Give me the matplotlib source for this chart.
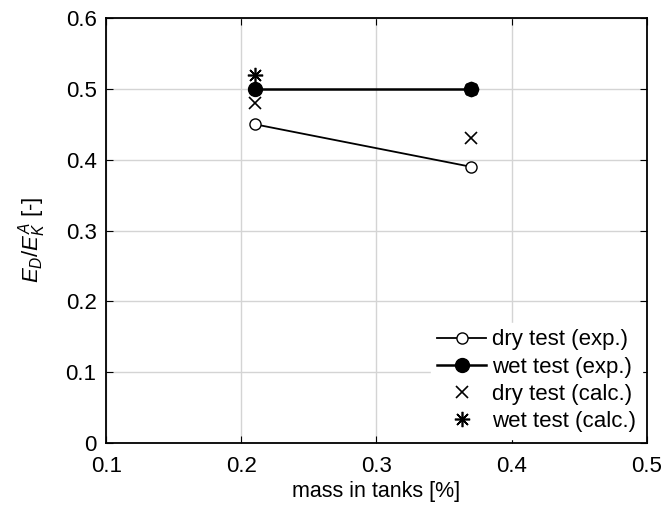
import matplotlib
matplotlib.use('Agg')
import matplotlib.pyplot as plt

plt.rcParams['font.family'] = ['Liberation Sans', 'DejaVu Sans']
plt.rcParams['mathtext.fontset'] = 'custom'
plt.rcParams['mathtext.it'] = 'Liberation Sans:italic'
plt.rcParams['mathtext.rm'] = 'Liberation Sans'

# data
mass = [0.21, 0.37]
dry_exp = [0.45, 0.39]
wet_exp = [0.50, 0.50]
dry_calc = [0.48, 0.43]
wet_calc = [0.52, 0.50]

fig = plt.figure(figsize=(6.64, 5.13), dpi=100)
ax = fig.add_axes([0.16, 0.136, 0.814, 0.829])

ax.plot(mass, dry_exp, '-o', color='black', mfc='white', ms=8, lw=1.3,
        label='dry test (exp.)')
ax.plot(mass, wet_exp, '-o', color='black', mfc='black', ms=10, lw=1.8,
        label='wet test (exp.)')
ax.plot(mass, dry_calc, ls='none', marker='x', color='black', ms=9, mew=1.2,
        label='dry test (calc.)')
ax.plot(mass, wet_calc, ls='none', marker=(8, 2, 0), color='black', ms=11,
        mew=1.2, label='wet test (calc.)')

ax.set_xlim(0.1, 0.5)
ax.set_ylim(0, 0.6)
ax.set_xticks([0.1, 0.2, 0.3, 0.4, 0.5])
ax.set_xticklabels(['0.1', '0.2', '0.3', '0.4', '0.5'])
ax.set_yticks([0, 0.1, 0.2, 0.3, 0.4, 0.5, 0.6])
ax.set_yticklabels(['0', '0.1', '0.2', '0.3', '0.4', '0.5', '0.6'])
ax.grid(True, color='#d4d4d4', lw=1)
ax.set_axisbelow(True)
ax.tick_params(direction='in', top=True, right=True, labelsize=16, length=5)
ax.tick_params(axis='x', pad=9)
ax.tick_params(axis='y', pad=7)
for s in ax.spines.values():
    s.set_linewidth(1.3)

ax.set_xlabel('mass in tanks [%]', fontsize=15.5, labelpad=3)
ax.set_ylabel('$E_D/E_K^A$ [-]', fontsize=16)
ax.yaxis.set_label_coords(-0.107, 0.478)

leg = ax.legend(loc='lower right', fontsize=16, fancybox=False,
                edgecolor='white', facecolor='white', framealpha=1,
                borderaxespad=0.2, borderpad=0.3,
                handlelength=2.2, handletextpad=0.25, labelspacing=0.28)

fig.savefig('out.png', dpi=100)
